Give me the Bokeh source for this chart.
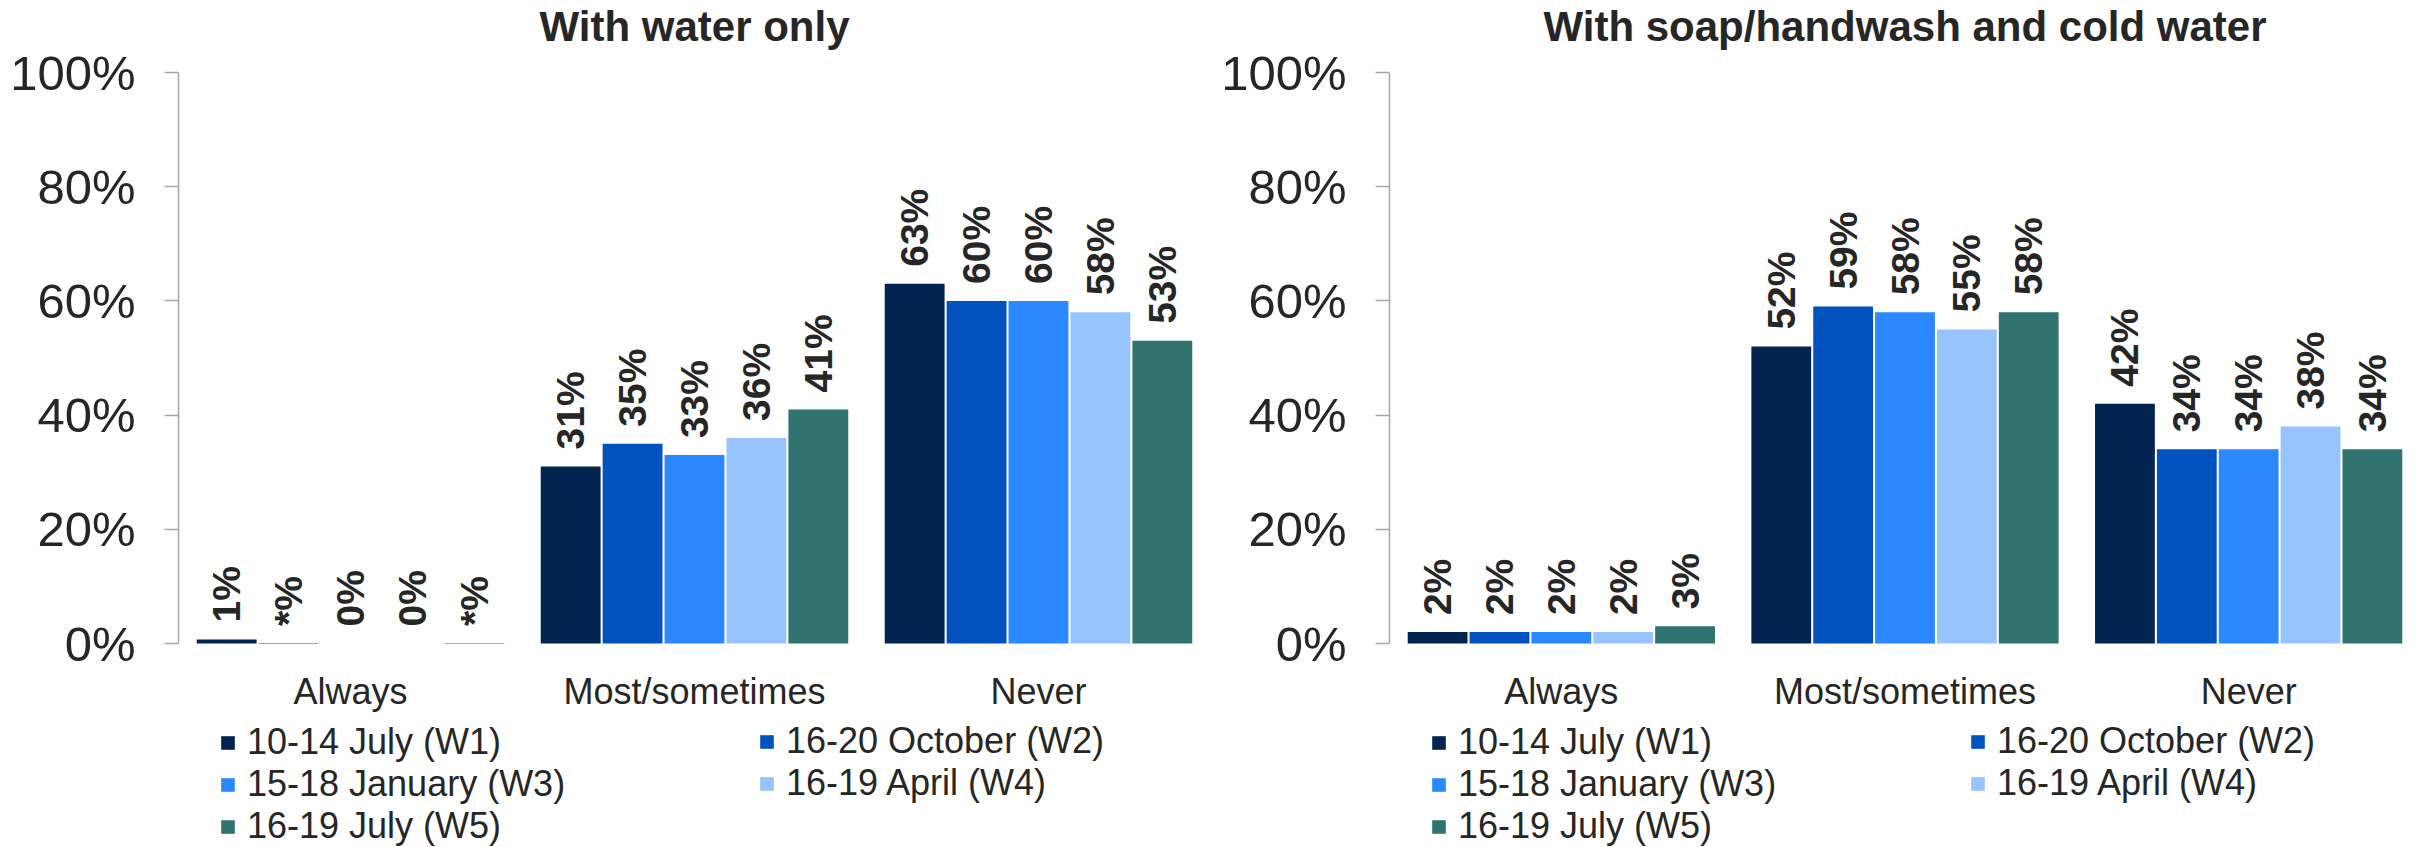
from bokeh.plotting import figure
from bokeh.layouts import row
from bokeh.models import (ColumnDataSource, FactorRange, Range1d, Legend, LegendItem,
                          Label, PrintfTickFormatter, FixedTicker)
from bokeh.transform import dodge
from bokeh.embed import file_html
from bokeh.resources import INLINE
from bokeh.core.properties import value
import math

# ---------------- data ----------------
categories = ["Always", "Most/sometimes", "Never"]
waves = ["10-14 July (W1)", "16-20 October (W2)", "15-18 January (W3)",
         "16-19 April (W4)", "16-19 July (W5)"]
wave_colors = ["#00244F", "#0053BE", "#2B88FE", "#97C3FE", "#30736F"]
y_ticks = [0, 20, 40, 60, 80, 100]

water_title = "With water only"
water_w1 = [0.7, 31, 63]
water_w2 = [0.1, 35, 60]
water_w3 = [0, 33, 60]
water_w4 = [0, 36, 58]
water_w5 = [0.1, 41, 53]
water_lbl_w1 = ["1%", "31%", "63%"]
water_lbl_w2 = ["*%", "35%", "60%"]
water_lbl_w3 = ["0%", "33%", "60%"]
water_lbl_w4 = ["0%", "36%", "58%"]
water_lbl_w5 = ["*%", "41%", "53%"]

soap_title = "With soap/handwash and cold water"
soap_w1 = [2, 52, 42]
soap_w2 = [2, 59, 34]
soap_w3 = [2, 58, 34]
soap_w4 = [2, 55, 38]
soap_w5 = [3, 58, 34]
soap_lbl_w1 = ["2%", "52%", "42%"]
soap_lbl_w2 = ["2%", "59%", "34%"]
soap_lbl_w3 = ["2%", "58%", "34%"]
soap_lbl_w4 = ["2%", "55%", "38%"]
soap_lbl_w5 = ["3%", "58%", "34%"]

# ---------------- style / geometry ----------------
FONT = "Liberation Sans"
TXT = "#262626"
AXIS = "#A6A6A6"
offsets = [-0.36, -0.18, 0.0, 0.18, 0.36]
BAR_W = 0.174
FIG_H = 847
BASE_PX = 643           # pixel row of the 0% baseline
PX_PER_100 = 571        # pixels spanned by 0..100%
Y_END = 100.0 * BASE_PX / PX_PER_100
Y_START = -100.0 * (FIG_H - BASE_PX) / PX_PER_100
LEG_PITCH = 43


def make_panel(title, series, labels, width, b_left):
    p = figure(x_range=FactorRange(*categories), y_range=Range1d(Y_START, Y_END),
               width=width, height=FIG_H,
               min_border_left=b_left, min_border_right=0,
               min_border_top=0, min_border_bottom=0,
               toolbar_location=None, output_backend="svg")
    data = dict(cat=categories, zero=[0] * len(categories))
    for j in range(5):
        data[f"w{j}"] = series[j]
        data[f"l{j}"] = labels[j]
    src = ColumnDataSource(data)

    rends = []
    for j in range(5):
        xx = dodge("cat", offsets[j], range=p.x_range)
        r = p.vbar(x=xx, top=f"w{j}", width=BAR_W, source=src,
                   fill_color=wave_colors[j], line_color=None)
        rends.append(r)
        p.text(x=xx, y=f"w{j}", text=f"l{j}", source=src, angle=math.pi / 2,
               text_align="left", text_baseline="middle", y_offset=-17,
               text_font=value(FONT), text_font_style="bold",
               text_font_size="39px", text_color=TXT)

    # category labels under the baseline
    p.text(x="cat", y="zero", text="cat", source=src, y_offset=48,
           text_align="center", text_baseline="alphabetic",
           text_font=value(FONT), text_font_size="36px", text_color=TXT)

    p.add_layout(Label(x=1.5, y=100, y_offset=46, text=title,
                       text_align="center", text_baseline="alphabetic",
                       text_font=FONT, text_font_style="bold",
                       text_font_size="42px", text_color=TXT))

    def add_legend(idx, loc):
        lg = Legend(items=[LegendItem(label=value(waves[k]), renderers=[rends[k]]) for k in idx],
                    location=loc, orientation="vertical",
                    padding=0, margin=0, spacing=0,
                    border_line_color=None, background_fill_alpha=0,
                    glyph_width=17, glyph_height=17, label_standoff=11,
                    label_text_font=FONT, label_text_font_size="36px",
                    label_text_color=TXT)
        p.add_layout(lg)

    add_legend([0, 2, 4], (41, 0))
    add_legend([1, 3], (580, LEG_PITCH))

    ya = p.yaxis[0]
    ya.bounds = (0, 100)
    ya.ticker = FixedTicker(ticks=y_ticks)
    ya.formatter = PrintfTickFormatter(format="%d%%")
    ya.major_label_text_font = FONT
    ya.major_label_text_font_size = "49px"
    ya.major_label_text_color = TXT
    ya.axis_line_color = AXIS
    ya.axis_line_width = 1.5
    ya.major_tick_line_color = AXIS
    ya.major_tick_line_width = 1.5
    ya.major_tick_out = 14
    ya.major_tick_in = 0
    ya.minor_tick_line_color = None
    ya.minor_tick_out = 0
    ya.major_label_standoff = 29

    p.xaxis.visible = False
    p.xgrid.grid_line_color = None
    p.ygrid.grid_line_color = None
    p.outline_line_color = None
    return p


p1 = make_panel(water_title,
                [water_w1, water_w2, water_w3, water_w4, water_w5],
                [water_lbl_w1, water_lbl_w2, water_lbl_w3, water_lbl_w4, water_lbl_w5],
                1210, 178)
p2 = make_panel(soap_title,
                [soap_w1, soap_w2, soap_w3, soap_w4, soap_w5],
                [soap_lbl_w1, soap_lbl_w2, soap_lbl_w3, soap_lbl_w4, soap_lbl_w5],
                1210, 179)

layout = row(p1, p2)
open("out.html", "w").write(file_html(layout, INLINE))
